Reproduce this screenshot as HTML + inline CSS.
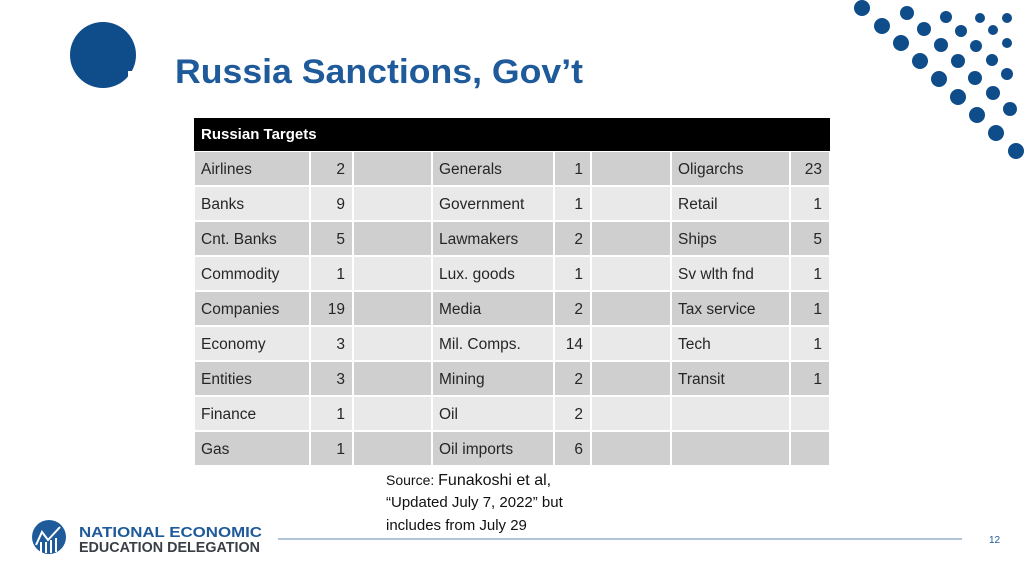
<!DOCTYPE html>
<html><head><meta charset="utf-8"><style>
html,body{margin:0;padding:0;background:#fff;}
svg{display:block;font-family:"Liberation Sans",sans-serif;}
</style></head><body>
<svg id="s" width="1024" height="576" viewBox="0 0 1024 576">
<g id="dots"></g>
<g>
<circle cx="103" cy="55" r="33" fill="#0f4c8a"/>
<rect x="128" y="71" width="12" height="14" fill="#fff"/>
</g>
<text x="175" y="83" font-size="34" font-weight="bold" fill="#1f5a9a" textLength="408" lengthAdjust="spacingAndGlyphs">Russia Sanctions, Gov’t</text>
<rect x="194" y="118" width="636" height="33" fill="#000"/>
<text x="201" y="139" font-size="15" font-weight="bold" fill="#fff">Russian Targets</text>
<g id="tbl"></g>
<text font-size="15" fill="#111"><tspan x="386" y="485" font-size="14">Source: </tspan><tspan font-size="16">Funakoshi et al,</tspan><tspan x="386" y="507">“Updated July 7, 2022” but</tspan><tspan x="386" y="530">includes from July 29</tspan></text>
<line x1="278" y1="539" x2="962" y2="539" stroke="#7f9fc2" stroke-width="1.2"/>
<text x="989" y="543" font-size="10" fill="#1f5a9a">12</text>
<g>
<circle cx="49" cy="537" r="17" fill="#1f5a9a"/>
<path d="M36 545 L42 532 L48 540 L60 527" stroke="#fff" stroke-width="2" fill="none"/>
<rect x="40" y="542" width="2" height="11" fill="#fff"/><rect x="45" y="542" width="2" height="11" fill="#fff"/><rect x="50" y="540" width="2" height="13" fill="#fff"/><rect x="55" y="538" width="2" height="14" fill="#fff"/>
<text x="79" y="537" font-size="14.5" font-weight="bold" fill="#1f5a9a" textLength="183" lengthAdjust="spacingAndGlyphs">NATIONAL ECONOMIC</text>
<text x="79" y="552" font-size="14.5" font-weight="bold" fill="#3a3f45" textLength="181" lengthAdjust="spacingAndGlyphs">EDUCATION DELEGATION</text>
</g>
</svg>
<script>
const labels1=["Airlines","Banks","Cnt. Banks","Commodity","Companies","Economy","Entities","Finance","Gas"];
const values1=["2","9","5","1","19","3","3","1","1"];
const labels2=["Generals","Government","Lawmakers","Lux. goods","Media","Mil. Comps.","Mining","Oil","Oil imports"];
const values2=["1","1","2","1","2","14","2","2","6"];
const labels3=["Oligarchs","Retail","Ships","Sv wlth fnd","Tax service","Tech","Transit","",""];
const values3=["23","1","5","1","1","1","1","",""];
const NS="http://www.w3.org/2000/svg";
const cols=[194,310,353,432,554,591,671,790,830];
const tbl=document.getElementById('tbl');
function mk(t,a){const e=document.createElementNS(NS,t);for(const k in a)e.setAttribute(k,a[k]);return e;}
for(let r=0;r<9;r++){
  const y=151+r*35;
  for(let c=0;c<8;c++){
    const rc=mk('rect',{x:cols[c]+1,y:y+1,width:cols[c+1]-cols[c]-2,height:33,fill:r%2==0?'#cfcfcf':'#e9e9e9'});
    
    
    tbl.appendChild(rc);
  }
  const groups=[[labels1,values1,0],[labels2,values2,3],[labels3,values3,6]];
  groups.forEach(([L,V,c])=>{
    if(L[r]){const t=mk('text',{x:cols[c]+7,y:y+23,'font-size':15.5,fill:'#262626'});t.textContent=L[r];
      
      
      tbl.appendChild(t);}
    if(V[r]){const t=mk('text',{x:cols[c+2]-8,y:y+23,'font-size':15.5,fill:'#262626','text-anchor':'end'});t.textContent=V[r];
      
      
      tbl.appendChild(t);}
  });
}
const dots=[[862,8,8],[907,13,7],[946,17,6],[980,18,5],[1007,18,5],[882,26,8],[924,29,7],[961,31,6],[993,30,5],[901,43,8],[941,45,7],[976,46,6],[1007,43,5],[920,61,8],[958,61,7],[992,60,6],[939,79,8],[975,78,7],[1007,74,6],[958,97,8],[993,93,7],[977,115,8],[1010,109,7],[996,133,8],[1016,151,8]];
const dg=document.getElementById('dots');
dots.forEach(d=>{const c=mk('circle',{cx:d[0],cy:d[1],r:d[2],fill:'#0f4c8a'});
  
  
  dg.appendChild(c);});
</script>
</body></html>
